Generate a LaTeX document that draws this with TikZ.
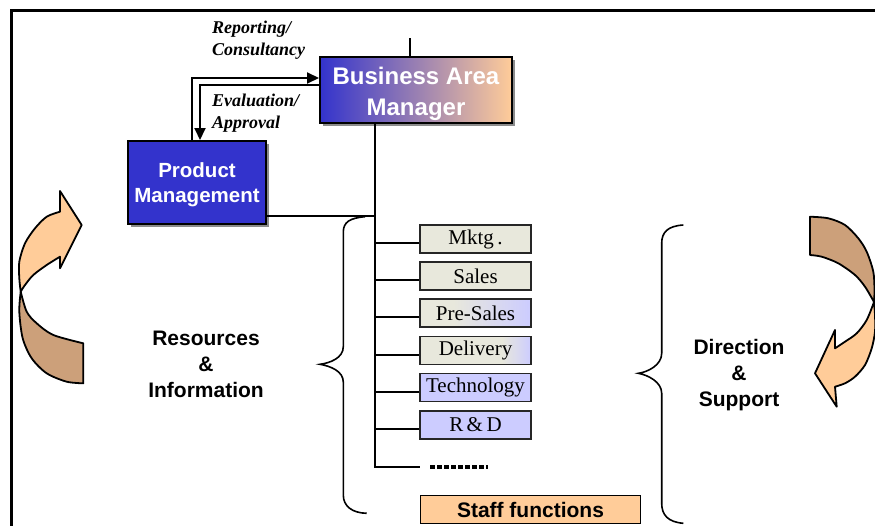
\documentclass[tikz,border=0pt]{standalone}
\usepackage{fontspec}
\setmainfont{Liberation Serif}
\setsansfont{Liberation Sans}
\usetikzlibrary{arrows.meta,shadows}

\definecolor{pmblue}{HTML}{3333CC}
\definecolor{peach}{HTML}{FFCC99}
\definecolor{ribbondark}{RGB}{204,160,122}
\definecolor{unitgrey}{HTML}{E8E8DC}
\definecolor{unitlav}{HTML}{CCCCFF}

% grey-to-lavender fades for the mixed units
\pgfdeclarehorizontalshading{presalesfade}{100bp}{color(0bp)=(unitgrey); color(40bp)=(unitgrey); color(75bp)=(unitlav); color(100bp)=(unitlav)}
\pgfdeclarehorizontalshading{deliveryfade}{100bp}{color(0bp)=(unitgrey); color(62bp)=(unitgrey); color(75bp)=(unitlav); color(100bp)=(unitlav)}

% lowers a two-line label inside its box without changing the box size
\newcommand{\droplabel}[2]{\raisebox{-#1}[\height][\depth]{\begin{tabular}{@{}c@{}}#2\end{tabular}}}

\tikzset{
  mgrbox/.style={draw=black, line width=2pt, text=white, inner sep=0pt,
    drop shadow={shadow xshift=3pt, shadow yshift=-3pt, fill=black!45, opacity=1}},
  unitbox/.style={draw=black!85, line width=1.8pt, minimum width=111pt, minimum height=28pt,
    inner sep=0pt, font=\fontsize{21}{24}\selectfont},
  link/.style={line width=2pt},
  flow/.style={line width=2pt, -{Triangle[length=12pt,width=11pt]}},
  brace/.style={line width=1.6pt},
  ribbon/.style={draw=black, line width=1.8pt, line join=round},
  note/.style={font=\fontsize{18}{22}\selectfont\bfseries\itshape, align=left,
    anchor=north west, inner sep=0pt},
  sidetext/.style={font=\sffamily\bfseries\fontsize{21}{26}\selectfont, align=center, inner sep=0pt}
}

\begin{document}
\begin{tikzpicture}[x=1pt, y=-1pt]
\useasboundingbox (0,0) rectangle (875,525);

% outer frame (top and left edges)
\draw[line width=3pt] (11,530) -- (11,10) -- (880,10);

% managers
\node[mgrbox, left color=pmblue, right color=peach, minimum width=192pt, minimum height=66pt,
  font=\sffamily\bfseries\fontsize{24}{31}\selectfont] (bam) at (416,90)
  {\droplabel{4pt}{Business Area\\Manager}};
\node[mgrbox, fill=pmblue, minimum width=138pt, minimum height=83pt,
  font=\sffamily\bfseries\fontsize{20.5}{25}\selectfont] (pm) at (197,182.5)
  {\droplabel{2pt}{Product\\Management}};

% reporting loop labels
\node[note] (reportlbl) at (212,21) {Reporting/\\Consultancy};
\node[note] (evallbl) at (212,94) {Evaluation/\\Approval};

% business units
\node[unitbox, fill=unitgrey] (mktg) at (475.5,239) {Mktg\,.};
\node[unitbox, fill=unitgrey] (sales) at (475.5,276) {Sales};
\node[unitbox, shade, shading=presalesfade] (presales) at (475.5,313) {Pre-Sales};
\node[unitbox, shade, shading=deliveryfade] (delivery) at (475.5,350.5) {Delivery};
\node[unitbox, fill=unitlav] (tech) at (475.5,387.5) {Technology};
\node[unitbox, fill=unitlav] (rnd) at (475.5,425) {R\,\&\,D};

\node[draw=black, line width=1.8pt, fill=peach, minimum width=220pt, minimum height=28pt, inner sep=0pt,
  font=\sffamily\bfseries\fontsize{21}{25}\selectfont] (staff) at (530.5,509.5) {Staff functions};

% side captions
\node[sidetext] (resinfo) at (206,364) {Resources\\\&\\Information};
\node[sidetext] (dirsup) at (739,375) {Direction\\\&\\Support};

% tree connectors
\coordinate (feed) at (410,38);
\coordinate (trunkend) at (375,467);
\coordinate (etc) at (420,467);
\draw[link] (feed) -- (feed |- bam.north);
\draw[link] (bam.south -| trunkend) -- (trunkend) -- (etc);
\draw[link] ([yshift=9pt]pm.south east) -- ([yshift=9pt]pm.south east -| trunkend);
\foreach \u in {mktg,sales,presales,delivery,tech,rnd}
  \draw[link] ([yshift=-4pt]\u.west -| trunkend) -- ([yshift=-4pt]\u.west);
\draw[line width=3.5pt, dash pattern=on 4.5pt off 2.5pt] ([xshift=10pt]etc) -- ([xshift=68pt]etc);

% reporting / approval loop
\draw[flow] ([xshift=-5pt]pm.north) |- ([yshift=12pt]bam.west);
\draw[flow] ([yshift=5pt]bam.west) -| ([xshift=3pt]pm.north);

% braces
\draw[brace] (365,216.7) .. controls (350,218) and (343.3,222) .. (343.3,232)
  -- (343.3,346.7) .. controls (343.3,358) and (330,363) .. (320,364.3)
  .. controls (330,366) and (343.3,371) .. (343.3,382)
  -- (343.3,495) .. controls (343.3,506) and (352,513) .. (366.7,513.3);
\draw[brace] (683.3,225) .. controls (668,226) and (661.7,232) .. (661.7,243.3)
  -- (661.7,353.3) .. controls (661.7,365) and (648,372) .. (638.3,373.3)
  .. controls (648,375) and (661.7,382) .. (661.7,393.3)
  -- (661.7,503.3) .. controls (661.7,515) and (668,522) .. (683.3,523.3);

% left twisted arrow
\filldraw[ribbon, fill=ribbondark] plot[smooth] coordinates {(20.7,291.7) (26.7,311.7) (36.7,323.3) (53.3,335) (83.3,343.3)}
  -- (83.3,383.3)
  -- plot[smooth] coordinates {(83.3,383.3) (66.7,381.7) (46.7,373.3) (31.7,358.3) (22.7,338.3) (19.3,311.7) (20.7,291.7)} -- cycle;
\filldraw[ribbon, fill=peach] (81.7,225) -- (60,191) -- (60,211.7)
  -- plot[smooth] coordinates {(60,211.7) (46.7,216.7) (35,228.3) (25,243.3) (19.3,261.7) (19.3,278.3) (20.7,291.7)}
  -- plot[smooth] coordinates {(20.7,291.7) (25,285) (33.3,275) (46.7,265) (60,256.7)}
  -- (60,268.3) -- cycle;

% right twisted arrow
\filldraw[ribbon, fill=ribbondark] (810,216.7)
  -- plot[smooth] coordinates {(810,216.7) (828.3,218.3) (845,225) (858.3,238.3) (866.7,251.7) (873.3,271.7) (874.5,290) (874,302)}
  -- plot[smooth] coordinates {(874,302) (865,286.7) (855,275) (838.3,263.3) (821.7,256.7) (810,255)} -- cycle;
\filldraw[ribbon, fill=peach] plot[smooth] coordinates {(874,302) (875,315) (875,331.7) (871.7,348.3) (865,365) (855,376.7) (845,383.3) (835,386.7)}
  -- (836.7,406.7) -- (815,373.3) -- (835,330)
  -- plot[smooth] coordinates {(835,348.3) (845,341.7) (856.7,333.3) (866.7,320) (874,302)} -- cycle;
\end{tikzpicture}
\end{document}
